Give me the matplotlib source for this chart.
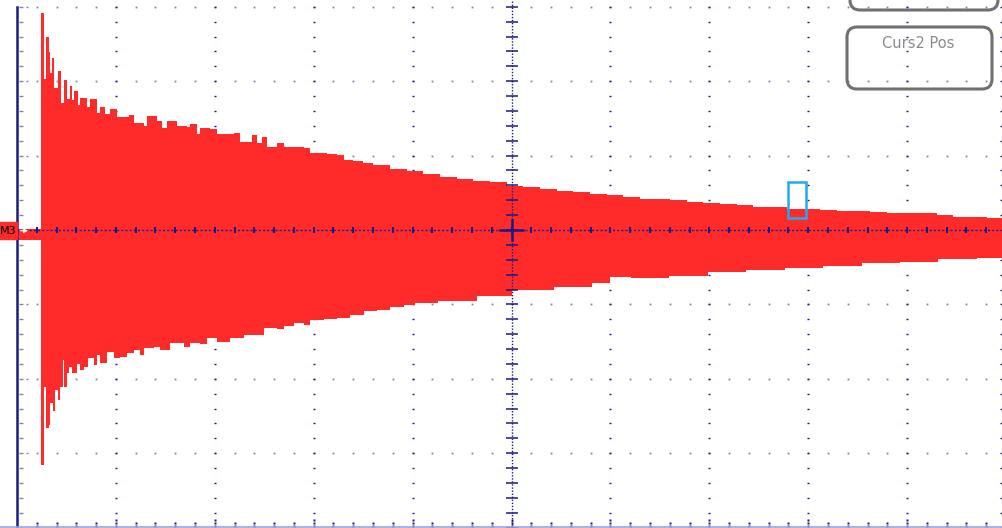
import numpy as np
import matplotlib
matplotlib.use("Agg")
import matplotlib.pyplot as plt
from matplotlib.patches import FancyBboxPatch, Rectangle

# scope trace, units = screen divisions (time: 0..10 div, amplitude: div)
top_t = [0.243, 0.273, 0.293, 0.324, 0.334, 0.354, 0.374, 0.415, 0.445, 0.475, 0.506, 0.536,
         0.556, 0.576, 0.617, 0.637, 0.708, 0.738, 0.809, 0.839, 0.890, 0.940, 1.011, 1.132,
         1.183, 1.284, 1.314, 1.416, 1.466, 1.517, 1.618, 1.719, 1.749, 1.820, 1.850, 1.951,
         2.022, 2.194, 2.255, 2.376, 2.427, 2.477, 2.528, 2.629, 2.700, 2.801, 2.902, 2.963,
         3.064, 3.134, 3.236, 3.306, 3.397, 3.498, 3.600, 3.771, 3.943, 4.105, 4.277, 4.449,
         4.611, 4.783, 4.954, 5.116, 5.288, 5.460, 5.622, 5.794, 5.966, 6.127, 6.299, 6.471,
         6.603, 6.775, 6.936, 7.108, 7.280, 7.442, 7.614, 7.786, 7.947, 8.119, 8.291, 8.453,
         8.625, 8.797, 8.959, 9.131, 9.302, 9.464, 9.636, 9.808, 9.970]
top_v = [2.917, 2.030, 2.594, 2.392, 2.110, 2.312, 1.909, 2.137, 1.707, 2.016, 1.761, 1.935,
         1.747, 1.868, 1.680, 1.774, 1.653, 1.761, 1.573, 1.653, 1.559, 1.626, 1.519, 1.546,
         1.438, 1.398, 1.532, 1.465, 1.371, 1.465, 1.398, 1.384, 1.425, 1.290, 1.371, 1.358,
         1.290, 1.304, 1.183, 1.277, 1.169, 1.250, 1.116, 1.169, 1.116, 1.116, 1.102, 1.035,
         1.035, 1.022, 1.008, 0.941, 0.927, 0.901, 0.874, 0.820, 0.793, 0.753, 0.712, 0.685,
         0.659, 0.645, 0.591, 0.578, 0.551, 0.524, 0.511, 0.484, 0.470, 0.444, 0.417, 0.417,
         0.403, 0.376, 0.363, 0.349, 0.336, 0.309, 0.309, 0.282, 0.282, 0.269, 0.255, 0.255,
         0.242, 0.228, 0.228, 0.228, 0.202, 0.175, 0.175, 0.161, 0.161]

bot_t = [0.243, 0.273, 0.293, 0.324, 0.334, 0.364, 0.384, 0.415, 0.435, 0.465, 0.475, 0.506,
         0.526, 0.556, 0.607, 0.637, 0.677, 0.718, 0.779, 0.809, 0.839, 0.910, 0.981, 1.041,
         1.112, 1.183, 1.244, 1.284, 1.385, 1.446, 1.547, 1.689, 1.749, 1.850, 1.921, 2.022,
         2.154, 2.295, 2.356, 2.497, 2.629, 2.700, 2.801, 2.902, 2.963, 3.104, 3.236, 3.367,
         3.509, 3.640, 3.771, 3.913, 4.024, 4.257, 4.651, 5.005, 5.430, 5.814, 5.996, 6.208,
         6.593, 6.987, 7.371, 7.765, 8.150, 8.544, 8.928, 9.312, 9.707, 9.970]
bot_v = [-3.159, -2.110, -2.661, -2.621, -2.325, -2.433, -2.151, -2.285, -2.110, -1.747, -2.110,
         -1.922, -1.841, -1.922, -1.801, -1.882, -1.841, -1.720, -1.815, -1.680, -1.788, -1.640,
         -1.720, -1.707, -1.653, -1.613, -1.680, -1.586, -1.573, -1.613, -1.519, -1.573, -1.519,
         -1.532, -1.452, -1.505, -1.452, -1.411, -1.411, -1.317, -1.331, -1.290, -1.250, -1.277,
         -1.210, -1.196, -1.183, -1.142, -1.089, -1.075, -1.035, -1.008, -0.981, -0.954, -0.887,
         -0.806, -0.766, -0.712, -0.632, -0.645, -0.618, -0.565, -0.538, -0.511, -0.484, -0.444,
         -0.430, -0.390, -0.376, -0.349]

pre_t = [0.0, 0.243]
pre_hi = 0.02
pre_lo = -0.13

cursor_t = 7.885   # cursor box centre
cursor_v = [0.16, 0.65]

red = "#ff2b2b"
navy = "#1a1a85"
dotc = "#8080c0"

fig = plt.figure(figsize=(10.02, 5.28), dpi=100)
ax = fig.add_axes([0, 0, 1, 1])
ax.set_xlim(-17 / 98.9, 985 / 98.9)
ax.set_ylim(-298 / 74.4, 230 / 74.4)
ax.axis("off")

# dotted graticule
minor_t = np.arange(0.2, 10.0, 0.2)
minor_v = np.arange(-4.0, 3.01, 0.2)
for gv in [3, 2, 1, -1, -2, -3]:
    ax.plot(minor_t, np.full_like(minor_t, gv), ls="none", marker="s", ms=1.3,
            mec="none", color=dotc, zorder=1)
for gt in [1, 2, 3, 4, 6, 7, 8, 9, 9.95]:
    ax.plot(np.full_like(minor_v, gt), minor_v, ls="none", marker="_", ms=2.0,
            mew=1.0, color=navy, zorder=1)

# trace
ax.fill_between(top_t, 0, top_v, step="post", color=red, lw=0, zorder=2)
ax.fill_between(bot_t, bot_v, 0, step="post", color=red, lw=0, zorder=2)
ax.fill_between(pre_t, pre_lo, pre_hi, color=red, lw=0, zorder=2)

# centre axes
ax.axvline(5, color=navy, lw=1.0, ls=(0, (1, 1.2)), zorder=3)
ax.axhline(0, color=navy, lw=1.0, ls=(0, (1.5, 1.5)), zorder=3)
ax.plot(np.full_like(minor_v, 5), minor_v, ls="none", marker="_", ms=9, mew=1.1,
        color=navy, zorder=3)
ax.plot(minor_t, np.zeros_like(minor_t), ls="none", marker="|", ms=5, mew=1.5,
        color=navy, zorder=3)
ax.plot([4.88, 5.12], [0, 0], color=navy, lw=1.8, zorder=3)
ax.plot([5, 5], [-0.14, 0.14], color=navy, lw=1.8, zorder=3)

# left axis and ticks
ax.plot([0, 0], [-4.1, 3.0], color=navy, lw=1.8, zorder=4)
ax.plot(np.full_like(minor_v, 0.04), minor_v, ls="none", marker="_", ms=3.5,
        mew=1.0, color=dotc, zorder=3)
ax.plot(np.full(7, 0.1), [3, 2, 1, -1, -2, -3, -4], ls="none", marker="_", ms=2,
        mew=1.0, color=dotc, zorder=3)

# bottom edge
ax.axhline(-3.995, color="#a0a0e8", lw=1.2, zorder=4)
ax.plot(minor_t, np.full_like(minor_t, -3.94), ls="none", marker="s", ms=1.6,
        mec="none", color=navy, zorder=3)
ax.plot(minor_t, np.full_like(minor_t, -3.98), ls="none", marker="s", ms=1.6,
        mec="none", color=navy, zorder=3)
ax.plot(range(1, 10), np.full(9, -3.90), ls="none", marker="s", ms=1.6,
        mec="none", color=navy, zorder=3)

# channel marker
ax.add_patch(Rectangle((-0.2, -0.12), 0.2, 0.23, color=red, zorder=5))
ax.text(-0.088, -0.01, "M3", ha="center", va="center", fontsize=8, color="black",
        zorder=6)
ax.annotate("", xy=(0.14, -0.01), xytext=(0.01, -0.01),
            arrowprops=dict(arrowstyle="-|>", color="white", lw=0.8,
                            mutation_scale=6), zorder=6)

# cursor box
ax.add_patch(Rectangle((cursor_t - 0.09, cursor_v[0]), 0.18, cursor_v[1] - cursor_v[0],
                       fill=False, ec="#20aaf0", lw=1.8, zorder=6))

# soft-key buttons, top right (figure pixel coordinates)
btn1 = FancyBboxPatch((850, 528 - 10), 148, 40, boxstyle="round,pad=0,rounding_size=10",
                      transform=None, fill=False, ec="#707070", lw=2.2, zorder=7)
btn2 = FancyBboxPatch((847, 528 - 89), 145, 62, boxstyle="round,pad=0,rounding_size=10",
                      transform=None, fill=False, ec="#707070", lw=2.2, zorder=7)
fig.patches.extend([btn1, btn2])
fig.text(918 / 1002, 1 - 43 / 528, "Curs2 Pos", ha="center", va="center",
         fontsize=10.5, color="#8a8a8a")

plt.savefig("out.png", dpi=100)
